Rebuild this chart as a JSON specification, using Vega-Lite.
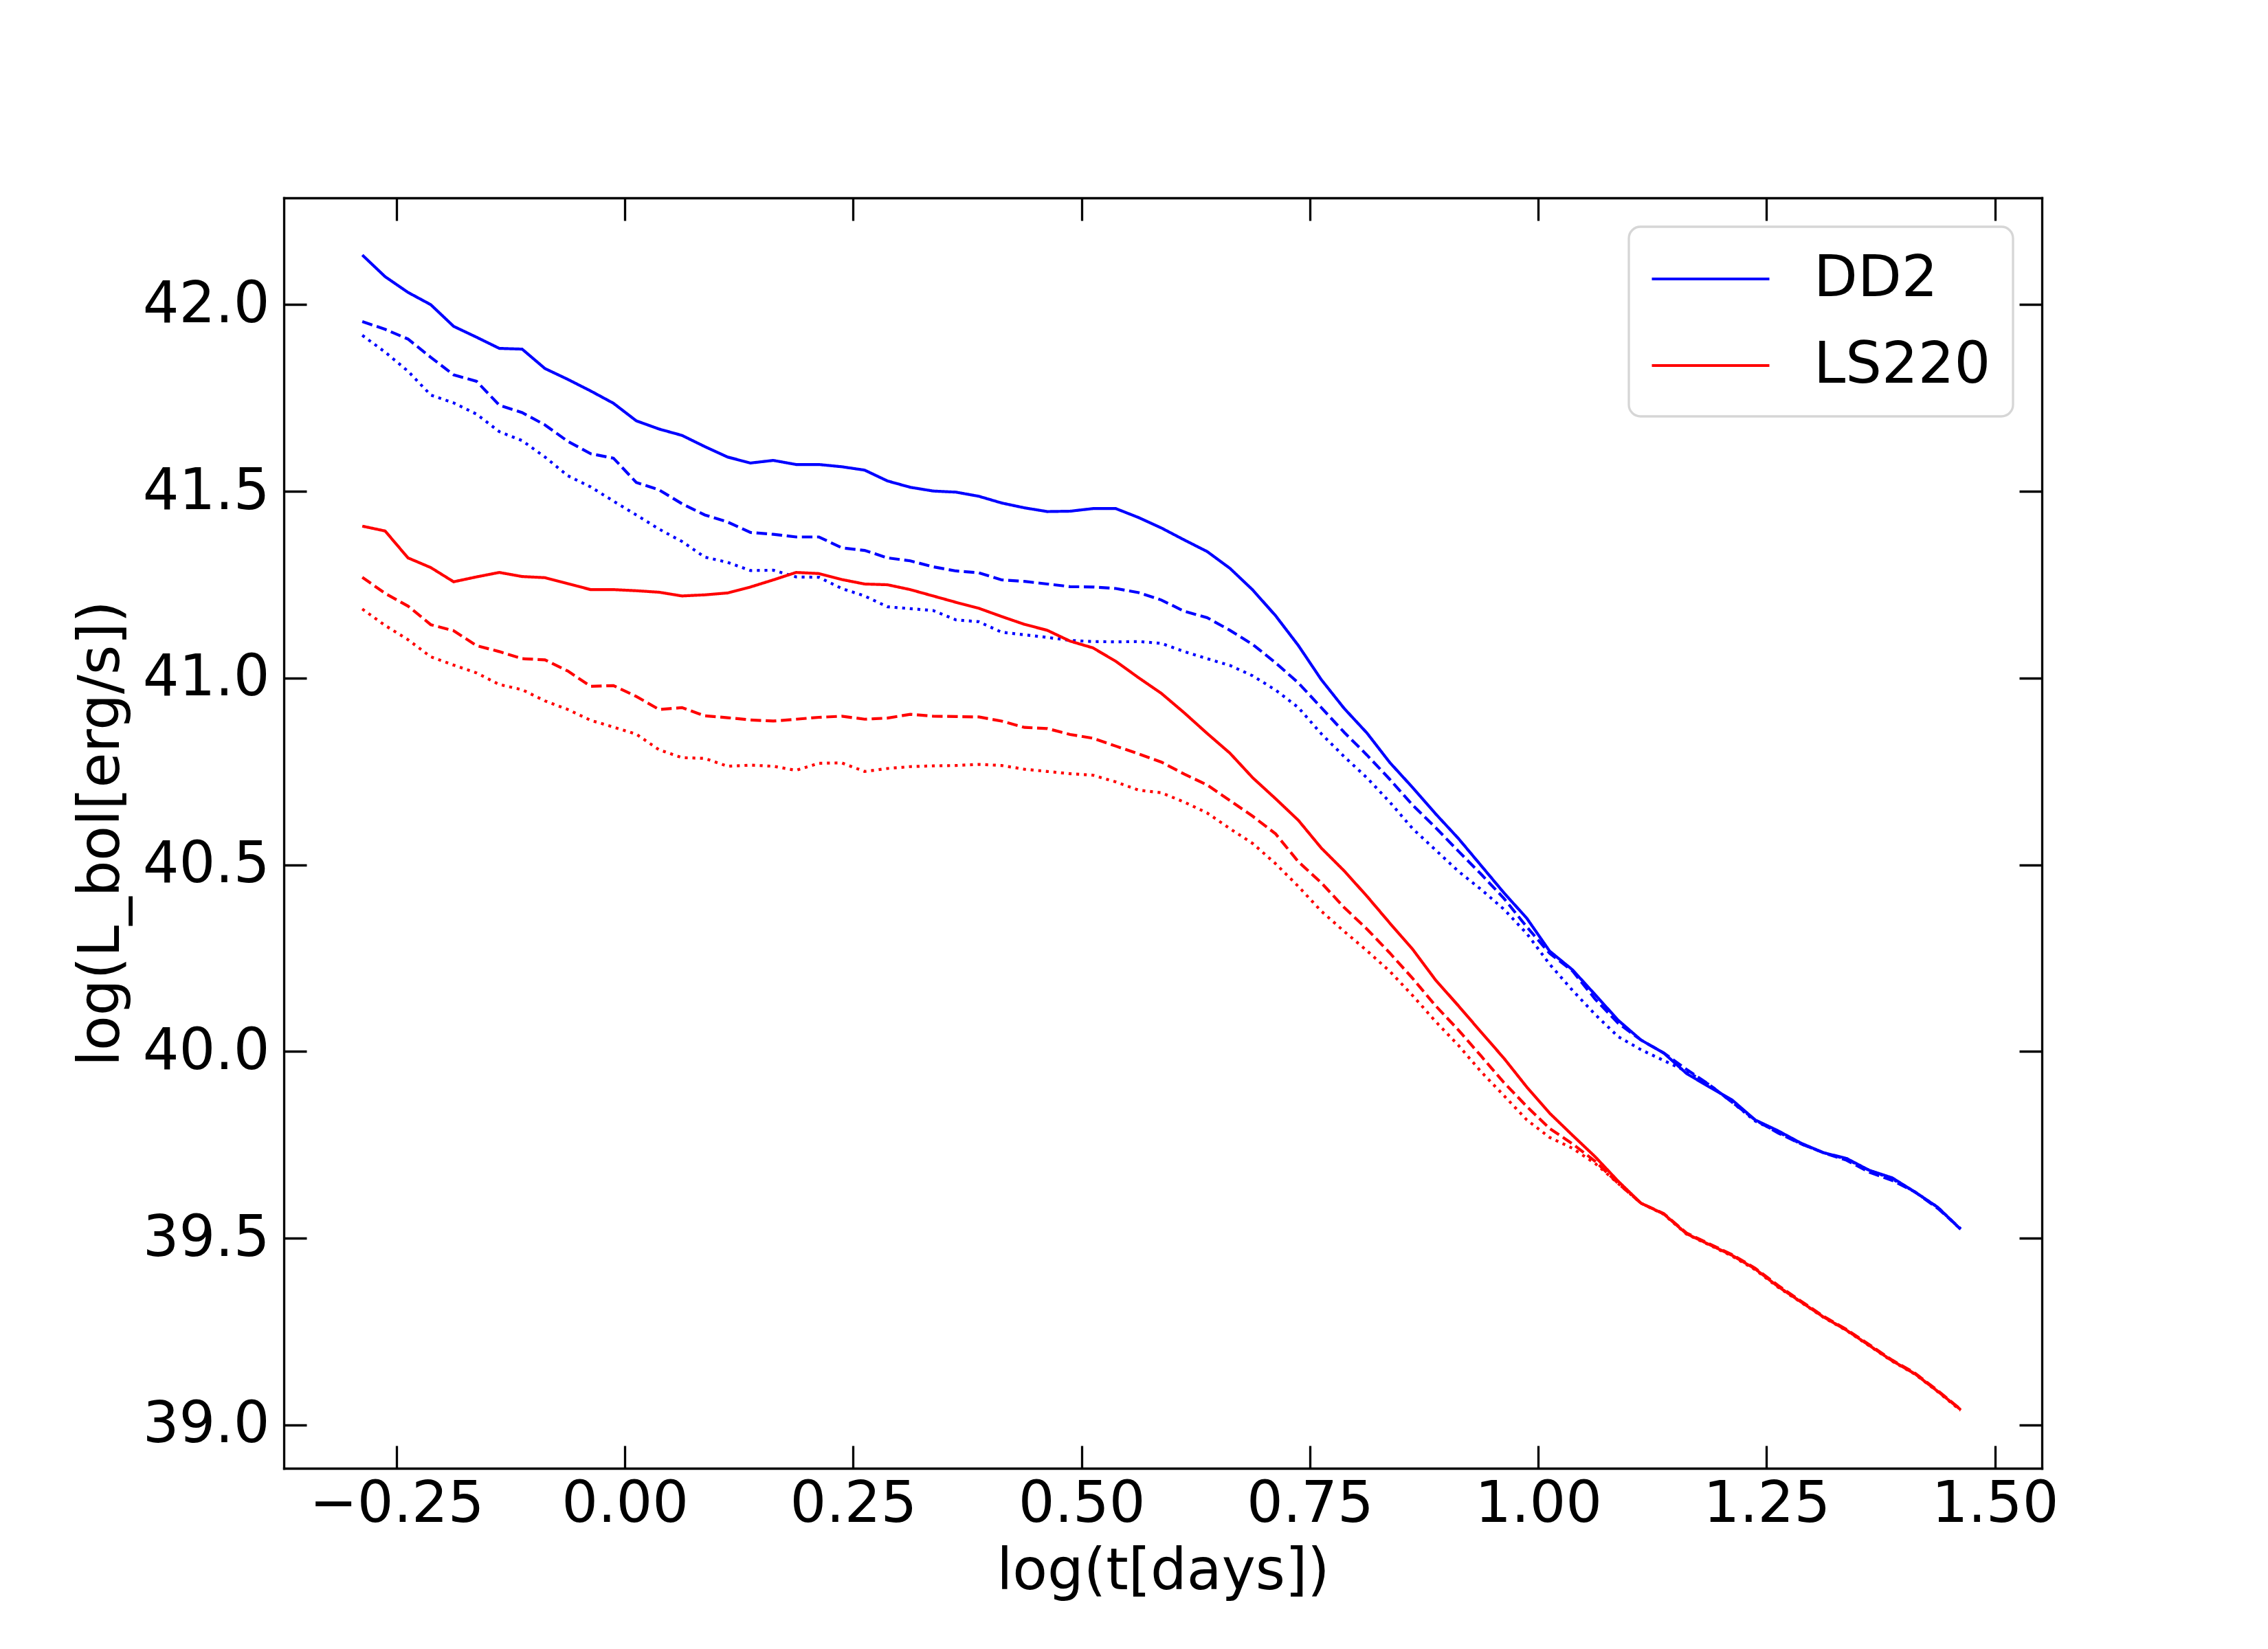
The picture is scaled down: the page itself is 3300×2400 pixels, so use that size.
{
  "$schema": "https://vega.github.io/schema/vega-lite/v6.json",
  "autosize": "none",
  "padding": {"left": 413, "top": 288, "right": 329, "bottom": 263},
  "width": 2558,
  "height": 1849,
  "background": "white",
  "config": {
    "view": {"stroke": null},
    "font": "DejaVu Sans",
    "axis": {
      "grid": false,
      "domainColor": "black",
      "domainWidth": 3.3,
      "domainCap": "square",
      "tickColor": "black",
      "tickWidth": 3.3,
      "tickSize": -33,
      "labelFont": "DejaVu Sans",
      "labelFontSize": 83,
      "labelColor": "black",
      "labelLimit": 0,
      "labelFlush": false,
      "labelOverlap": false,
      "titleFont": "DejaVu Sans",
      "titleFontSize": 83,
      "titleFontWeight": "normal",
      "titleColor": "black"
    },
    "legend": {
      "strokeColor": "#d6d6d6",
      "strokeWidth": 3.3,
      "fillColor": "white",
      "cornerRadius": 17,
      "padding": 32,
      "rowPadding": 40,
      "labelFont": "DejaVu Sans",
      "labelFontSize": 83,
      "labelColor": "black",
      "labelLimit": 0,
      "labelOffset": 106,
      "symbolType": "M-2.06,0H2.06",
      "symbolSize": 6889,
      "symbolOffset": 43,
      "symbolStrokeWidth": 4.2
    }
  },
  "data": {
    "values": [
      {"t": -0.2875, "L": 42.133, "eos": "DD2", "case": "1"},
      {"t": -0.2625, "L": 42.075, "eos": "DD2", "case": "1"},
      {"t": -0.2375, "L": 42.033, "eos": "DD2", "case": "1"},
      {"t": -0.2125, "L": 42.000, "eos": "DD2", "case": "1"},
      {"t": -0.1875, "L": 41.942, "eos": "DD2", "case": "1"},
      {"t": -0.1625, "L": 41.913, "eos": "DD2", "case": "1"},
      {"t": -0.1375, "L": 41.883, "eos": "DD2", "case": "1"},
      {"t": -0.1125, "L": 41.881, "eos": "DD2", "case": "1"},
      {"t": -0.0875, "L": 41.829, "eos": "DD2", "case": "1"},
      {"t": -0.0625, "L": 41.800, "eos": "DD2", "case": "1"},
      {"t": -0.0375, "L": 41.769, "eos": "DD2", "case": "1"},
      {"t": -0.0125, "L": 41.736, "eos": "DD2", "case": "1"},
      {"t": 0.0125, "L": 41.689, "eos": "DD2", "case": "1"},
      {"t": 0.0375, "L": 41.667, "eos": "DD2", "case": "1"},
      {"t": 0.0625, "L": 41.650, "eos": "DD2", "case": "1"},
      {"t": 0.0875, "L": 41.620, "eos": "DD2", "case": "1"},
      {"t": 0.1125, "L": 41.592, "eos": "DD2", "case": "1"},
      {"t": 0.1375, "L": 41.576, "eos": "DD2", "case": "1"},
      {"t": 0.1625, "L": 41.583, "eos": "DD2", "case": "1"},
      {"t": 0.1875, "L": 41.572, "eos": "DD2", "case": "1"},
      {"t": 0.2125, "L": 41.572, "eos": "DD2", "case": "1"},
      {"t": 0.2375, "L": 41.566, "eos": "DD2", "case": "1"},
      {"t": 0.2625, "L": 41.557, "eos": "DD2", "case": "1"},
      {"t": 0.2875, "L": 41.528, "eos": "DD2", "case": "1"},
      {"t": 0.3125, "L": 41.511, "eos": "DD2", "case": "1"},
      {"t": 0.3375, "L": 41.501, "eos": "DD2", "case": "1"},
      {"t": 0.3625, "L": 41.498, "eos": "DD2", "case": "1"},
      {"t": 0.3875, "L": 41.487, "eos": "DD2", "case": "1"},
      {"t": 0.4125, "L": 41.469, "eos": "DD2", "case": "1"},
      {"t": 0.4375, "L": 41.456, "eos": "DD2", "case": "1"},
      {"t": 0.4625, "L": 41.446, "eos": "DD2", "case": "1"},
      {"t": 0.4875, "L": 41.447, "eos": "DD2", "case": "1"},
      {"t": 0.5125, "L": 41.454, "eos": "DD2", "case": "1"},
      {"t": 0.5375, "L": 41.454, "eos": "DD2", "case": "1"},
      {"t": 0.5625, "L": 41.430, "eos": "DD2", "case": "1"},
      {"t": 0.5875, "L": 41.402, "eos": "DD2", "case": "1"},
      {"t": 0.6125, "L": 41.370, "eos": "DD2", "case": "1"},
      {"t": 0.6375, "L": 41.339, "eos": "DD2", "case": "1"},
      {"t": 0.6625, "L": 41.294, "eos": "DD2", "case": "1"},
      {"t": 0.6875, "L": 41.236, "eos": "DD2", "case": "1"},
      {"t": 0.7125, "L": 41.167, "eos": "DD2", "case": "1"},
      {"t": 0.7375, "L": 41.087, "eos": "DD2", "case": "1"},
      {"t": 0.7625, "L": 40.996, "eos": "DD2", "case": "1"},
      {"t": 0.7875, "L": 40.919, "eos": "DD2", "case": "1"},
      {"t": 0.8125, "L": 40.853, "eos": "DD2", "case": "1"},
      {"t": 0.8375, "L": 40.774, "eos": "DD2", "case": "1"},
      {"t": 0.8625, "L": 40.707, "eos": "DD2", "case": "1"},
      {"t": 0.8875, "L": 40.637, "eos": "DD2", "case": "1"},
      {"t": 0.9125, "L": 40.571, "eos": "DD2", "case": "1"},
      {"t": 0.9375, "L": 40.498, "eos": "DD2", "case": "1"},
      {"t": 0.9625, "L": 40.425, "eos": "DD2", "case": "1"},
      {"t": 0.9875, "L": 40.357, "eos": "DD2", "case": "1"},
      {"t": 1.0125, "L": 40.269, "eos": "DD2", "case": "1"},
      {"t": 1.0375, "L": 40.219, "eos": "DD2", "case": "1"},
      {"t": 1.0625, "L": 40.152, "eos": "DD2", "case": "1"},
      {"t": 1.0875, "L": 40.084, "eos": "DD2", "case": "1"},
      {"t": 1.1125, "L": 40.031, "eos": "DD2", "case": "1"},
      {"t": 1.1375, "L": 39.996, "eos": "DD2", "case": "1"},
      {"t": 1.1625, "L": 39.941, "eos": "DD2", "case": "1"},
      {"t": 1.1875, "L": 39.905, "eos": "DD2", "case": "1"},
      {"t": 1.2125, "L": 39.870, "eos": "DD2", "case": "1"},
      {"t": 1.2375, "L": 39.817, "eos": "DD2", "case": "1"},
      {"t": 1.2625, "L": 39.788, "eos": "DD2", "case": "1"},
      {"t": 1.2875, "L": 39.755, "eos": "DD2", "case": "1"},
      {"t": 1.3125, "L": 39.729, "eos": "DD2", "case": "1"},
      {"t": 1.3375, "L": 39.714, "eos": "DD2", "case": "1"},
      {"t": 1.3625, "L": 39.682, "eos": "DD2", "case": "1"},
      {"t": 1.3875, "L": 39.662, "eos": "DD2", "case": "1"},
      {"t": 1.4125, "L": 39.624, "eos": "DD2", "case": "1"},
      {"t": 1.4375, "L": 39.583, "eos": "DD2", "case": "1"},
      {"t": 1.4625, "L": 39.524, "eos": "DD2", "case": "1"},

      {"t": -0.2875, "L": 41.955, "eos": "DD2", "case": "2"},
      {"t": -0.2625, "L": 41.934, "eos": "DD2", "case": "2"},
      {"t": -0.2375, "L": 41.908, "eos": "DD2", "case": "2"},
      {"t": -0.2125, "L": 41.859, "eos": "DD2", "case": "2"},
      {"t": -0.1875, "L": 41.812, "eos": "DD2", "case": "2"},
      {"t": -0.1625, "L": 41.795, "eos": "DD2", "case": "2"},
      {"t": -0.1375, "L": 41.731, "eos": "DD2", "case": "2"},
      {"t": -0.1125, "L": 41.711, "eos": "DD2", "case": "2"},
      {"t": -0.0875, "L": 41.678, "eos": "DD2", "case": "2"},
      {"t": -0.0625, "L": 41.634, "eos": "DD2", "case": "2"},
      {"t": -0.0375, "L": 41.601, "eos": "DD2", "case": "2"},
      {"t": -0.0125, "L": 41.589, "eos": "DD2", "case": "2"},
      {"t": 0.0125, "L": 41.524, "eos": "DD2", "case": "2"},
      {"t": 0.0375, "L": 41.504, "eos": "DD2", "case": "2"},
      {"t": 0.0625, "L": 41.467, "eos": "DD2", "case": "2"},
      {"t": 0.0875, "L": 41.437, "eos": "DD2", "case": "2"},
      {"t": 0.1125, "L": 41.418, "eos": "DD2", "case": "2"},
      {"t": 0.1375, "L": 41.390, "eos": "DD2", "case": "2"},
      {"t": 0.1625, "L": 41.385, "eos": "DD2", "case": "2"},
      {"t": 0.1875, "L": 41.378, "eos": "DD2", "case": "2"},
      {"t": 0.2125, "L": 41.378, "eos": "DD2", "case": "2"},
      {"t": 0.2375, "L": 41.349, "eos": "DD2", "case": "2"},
      {"t": 0.2625, "L": 41.342, "eos": "DD2", "case": "2"},
      {"t": 0.2875, "L": 41.322, "eos": "DD2", "case": "2"},
      {"t": 0.3125, "L": 41.314, "eos": "DD2", "case": "2"},
      {"t": 0.3375, "L": 41.298, "eos": "DD2", "case": "2"},
      {"t": 0.3625, "L": 41.287, "eos": "DD2", "case": "2"},
      {"t": 0.3875, "L": 41.282, "eos": "DD2", "case": "2"},
      {"t": 0.4125, "L": 41.263, "eos": "DD2", "case": "2"},
      {"t": 0.4375, "L": 41.259, "eos": "DD2", "case": "2"},
      {"t": 0.4625, "L": 41.252, "eos": "DD2", "case": "2"},
      {"t": 0.4875, "L": 41.245, "eos": "DD2", "case": "2"},
      {"t": 0.5125, "L": 41.244, "eos": "DD2", "case": "2"},
      {"t": 0.5375, "L": 41.240, "eos": "DD2", "case": "2"},
      {"t": 0.5625, "L": 41.229, "eos": "DD2", "case": "2"},
      {"t": 0.5875, "L": 41.209, "eos": "DD2", "case": "2"},
      {"t": 0.6125, "L": 41.179, "eos": "DD2", "case": "2"},
      {"t": 0.6375, "L": 41.162, "eos": "DD2", "case": "2"},
      {"t": 0.6625, "L": 41.128, "eos": "DD2", "case": "2"},
      {"t": 0.6875, "L": 41.090, "eos": "DD2", "case": "2"},
      {"t": 0.7125, "L": 41.041, "eos": "DD2", "case": "2"},
      {"t": 0.7375, "L": 40.987, "eos": "DD2", "case": "2"},
      {"t": 0.7625, "L": 40.921, "eos": "DD2", "case": "2"},
      {"t": 0.7875, "L": 40.855, "eos": "DD2", "case": "2"},
      {"t": 0.8125, "L": 40.794, "eos": "DD2", "case": "2"},
      {"t": 0.8375, "L": 40.729, "eos": "DD2", "case": "2"},
      {"t": 0.8625, "L": 40.660, "eos": "DD2", "case": "2"},
      {"t": 0.8875, "L": 40.600, "eos": "DD2", "case": "2"},
      {"t": 0.9125, "L": 40.537, "eos": "DD2", "case": "2"},
      {"t": 0.9375, "L": 40.475, "eos": "DD2", "case": "2"},
      {"t": 0.9625, "L": 40.410, "eos": "DD2", "case": "2"},
      {"t": 0.9875, "L": 40.334, "eos": "DD2", "case": "2"},
      {"t": 1.0125, "L": 40.263, "eos": "DD2", "case": "2"},
      {"t": 1.0375, "L": 40.216, "eos": "DD2", "case": "2"},
      {"t": 1.0625, "L": 40.140, "eos": "DD2", "case": "2"},
      {"t": 1.0875, "L": 40.076, "eos": "DD2", "case": "2"},
      {"t": 1.1125, "L": 40.031, "eos": "DD2", "case": "2"},
      {"t": 1.1375, "L": 39.996, "eos": "DD2", "case": "2"},
      {"t": 1.1625, "L": 39.952, "eos": "DD2", "case": "2"},
      {"t": 1.1875, "L": 39.911, "eos": "DD2", "case": "2"},
      {"t": 1.2125, "L": 39.864, "eos": "DD2", "case": "2"},
      {"t": 1.2375, "L": 39.817, "eos": "DD2", "case": "2"},
      {"t": 1.2625, "L": 39.782, "eos": "DD2", "case": "2"},
      {"t": 1.2875, "L": 39.753, "eos": "DD2", "case": "2"},
      {"t": 1.3125, "L": 39.729, "eos": "DD2", "case": "2"},
      {"t": 1.3375, "L": 39.709, "eos": "DD2", "case": "2"},
      {"t": 1.3625, "L": 39.677, "eos": "DD2", "case": "2"},
      {"t": 1.3875, "L": 39.655, "eos": "DD2", "case": "2"},
      {"t": 1.4125, "L": 39.624, "eos": "DD2", "case": "2"},
      {"t": 1.4375, "L": 39.580, "eos": "DD2", "case": "2"},
      {"t": 1.4625, "L": 39.526, "eos": "DD2", "case": "2"},

      {"t": -0.2875, "L": 41.918, "eos": "DD2", "case": "3"},
      {"t": -0.2625, "L": 41.873, "eos": "DD2", "case": "3"},
      {"t": -0.2375, "L": 41.822, "eos": "DD2", "case": "3"},
      {"t": -0.2125, "L": 41.758, "eos": "DD2", "case": "3"},
      {"t": -0.1875, "L": 41.737, "eos": "DD2", "case": "3"},
      {"t": -0.1625, "L": 41.707, "eos": "DD2", "case": "3"},
      {"t": -0.1375, "L": 41.660, "eos": "DD2", "case": "3"},
      {"t": -0.1125, "L": 41.636, "eos": "DD2", "case": "3"},
      {"t": -0.0875, "L": 41.592, "eos": "DD2", "case": "3"},
      {"t": -0.0625, "L": 41.542, "eos": "DD2", "case": "3"},
      {"t": -0.0375, "L": 41.512, "eos": "DD2", "case": "3"},
      {"t": -0.0125, "L": 41.474, "eos": "DD2", "case": "3"},
      {"t": 0.0125, "L": 41.437, "eos": "DD2", "case": "3"},
      {"t": 0.0375, "L": 41.399, "eos": "DD2", "case": "3"},
      {"t": 0.0625, "L": 41.366, "eos": "DD2", "case": "3"},
      {"t": 0.0875, "L": 41.324, "eos": "DD2", "case": "3"},
      {"t": 0.1125, "L": 41.310, "eos": "DD2", "case": "3"},
      {"t": 0.1375, "L": 41.288, "eos": "DD2", "case": "3"},
      {"t": 0.1625, "L": 41.289, "eos": "DD2", "case": "3"},
      {"t": 0.1875, "L": 41.271, "eos": "DD2", "case": "3"},
      {"t": 0.2125, "L": 41.270, "eos": "DD2", "case": "3"},
      {"t": 0.2375, "L": 41.240, "eos": "DD2", "case": "3"},
      {"t": 0.2625, "L": 41.220, "eos": "DD2", "case": "3"},
      {"t": 0.2875, "L": 41.191, "eos": "DD2", "case": "3"},
      {"t": 0.3125, "L": 41.186, "eos": "DD2", "case": "3"},
      {"t": 0.3375, "L": 41.181, "eos": "DD2", "case": "3"},
      {"t": 0.3625, "L": 41.156, "eos": "DD2", "case": "3"},
      {"t": 0.3875, "L": 41.151, "eos": "DD2", "case": "3"},
      {"t": 0.4125, "L": 41.123, "eos": "DD2", "case": "3"},
      {"t": 0.4375, "L": 41.116, "eos": "DD2", "case": "3"},
      {"t": 0.4625, "L": 41.109, "eos": "DD2", "case": "3"},
      {"t": 0.4875, "L": 41.101, "eos": "DD2", "case": "3"},
      {"t": 0.5125, "L": 41.098, "eos": "DD2", "case": "3"},
      {"t": 0.5375, "L": 41.097, "eos": "DD2", "case": "3"},
      {"t": 0.5625, "L": 41.098, "eos": "DD2", "case": "3"},
      {"t": 0.5875, "L": 41.093, "eos": "DD2", "case": "3"},
      {"t": 0.6125, "L": 41.071, "eos": "DD2", "case": "3"},
      {"t": 0.6375, "L": 41.052, "eos": "DD2", "case": "3"},
      {"t": 0.6625, "L": 41.034, "eos": "DD2", "case": "3"},
      {"t": 0.6875, "L": 41.006, "eos": "DD2", "case": "3"},
      {"t": 0.7125, "L": 40.968, "eos": "DD2", "case": "3"},
      {"t": 0.7375, "L": 40.921, "eos": "DD2", "case": "3"},
      {"t": 0.7625, "L": 40.851, "eos": "DD2", "case": "3"},
      {"t": 0.7875, "L": 40.790, "eos": "DD2", "case": "3"},
      {"t": 0.8125, "L": 40.733, "eos": "DD2", "case": "3"},
      {"t": 0.8375, "L": 40.668, "eos": "DD2", "case": "3"},
      {"t": 0.8625, "L": 40.597, "eos": "DD2", "case": "3"},
      {"t": 0.8875, "L": 40.540, "eos": "DD2", "case": "3"},
      {"t": 0.9125, "L": 40.483, "eos": "DD2", "case": "3"},
      {"t": 0.9375, "L": 40.434, "eos": "DD2", "case": "3"},
      {"t": 0.9625, "L": 40.381, "eos": "DD2", "case": "3"},
      {"t": 0.9875, "L": 40.316, "eos": "DD2", "case": "3"},
      {"t": 1.0125, "L": 40.234, "eos": "DD2", "case": "3"},
      {"t": 1.0375, "L": 40.164, "eos": "DD2", "case": "3"},
      {"t": 1.0625, "L": 40.099, "eos": "DD2", "case": "3"},
      {"t": 1.0875, "L": 40.040, "eos": "DD2", "case": "3"},
      {"t": 1.1125, "L": 40.005, "eos": "DD2", "case": "3"},
      {"t": 1.1375, "L": 39.976, "eos": "DD2", "case": "3"},
      {"t": 1.1625, "L": 39.947, "eos": "DD2", "case": "3"},
      {"t": 1.1875, "L": 39.911, "eos": "DD2", "case": "3"},
      {"t": 1.2125, "L": 39.864, "eos": "DD2", "case": "3"},
      {"t": 1.2375, "L": 39.814, "eos": "DD2", "case": "3"},
      {"t": 1.2625, "L": 39.785, "eos": "DD2", "case": "3"},
      {"t": 1.2875, "L": 39.753, "eos": "DD2", "case": "3"},
      {"t": 1.3125, "L": 39.729, "eos": "DD2", "case": "3"},
      {"t": 1.3375, "L": 39.712, "eos": "DD2", "case": "3"},
      {"t": 1.3625, "L": 39.682, "eos": "DD2", "case": "3"},
      {"t": 1.3875, "L": 39.659, "eos": "DD2", "case": "3"},
      {"t": 1.4125, "L": 39.624, "eos": "DD2", "case": "3"},
      {"t": 1.4375, "L": 39.583, "eos": "DD2", "case": "3"},
      {"t": 1.4625, "L": 39.524, "eos": "DD2", "case": "3"},

      {"t": -0.2875, "L": 41.407, "eos": "LS220", "case": "1"},
      {"t": -0.2625, "L": 41.394, "eos": "LS220", "case": "1"},
      {"t": -0.2375, "L": 41.322, "eos": "LS220", "case": "1"},
      {"t": -0.2125, "L": 41.296, "eos": "LS220", "case": "1"},
      {"t": -0.1875, "L": 41.258, "eos": "LS220", "case": "1"},
      {"t": -0.1625, "L": 41.271, "eos": "LS220", "case": "1"},
      {"t": -0.1375, "L": 41.283, "eos": "LS220", "case": "1"},
      {"t": -0.1125, "L": 41.272, "eos": "LS220", "case": "1"},
      {"t": -0.0875, "L": 41.269, "eos": "LS220", "case": "1"},
      {"t": -0.0625, "L": 41.253, "eos": "LS220", "case": "1"},
      {"t": -0.0375, "L": 41.237, "eos": "LS220", "case": "1"},
      {"t": -0.0125, "L": 41.237, "eos": "LS220", "case": "1"},
      {"t": 0.0125, "L": 41.234, "eos": "LS220", "case": "1"},
      {"t": 0.0375, "L": 41.230, "eos": "LS220", "case": "1"},
      {"t": 0.0625, "L": 41.220, "eos": "LS220", "case": "1"},
      {"t": 0.0875, "L": 41.223, "eos": "LS220", "case": "1"},
      {"t": 0.1125, "L": 41.228, "eos": "LS220", "case": "1"},
      {"t": 0.1375, "L": 41.244, "eos": "LS220", "case": "1"},
      {"t": 0.1625, "L": 41.263, "eos": "LS220", "case": "1"},
      {"t": 0.1875, "L": 41.283, "eos": "LS220", "case": "1"},
      {"t": 0.2125, "L": 41.280, "eos": "LS220", "case": "1"},
      {"t": 0.2375, "L": 41.264, "eos": "LS220", "case": "1"},
      {"t": 0.2625, "L": 41.252, "eos": "LS220", "case": "1"},
      {"t": 0.2875, "L": 41.250, "eos": "LS220", "case": "1"},
      {"t": 0.3125, "L": 41.237, "eos": "LS220", "case": "1"},
      {"t": 0.3375, "L": 41.220, "eos": "LS220", "case": "1"},
      {"t": 0.3625, "L": 41.203, "eos": "LS220", "case": "1"},
      {"t": 0.3875, "L": 41.187, "eos": "LS220", "case": "1"},
      {"t": 0.4125, "L": 41.165, "eos": "LS220", "case": "1"},
      {"t": 0.4375, "L": 41.144, "eos": "LS220", "case": "1"},
      {"t": 0.4625, "L": 41.128, "eos": "LS220", "case": "1"},
      {"t": 0.4875, "L": 41.099, "eos": "LS220", "case": "1"},
      {"t": 0.5125, "L": 41.081, "eos": "LS220", "case": "1"},
      {"t": 0.5375, "L": 41.045, "eos": "LS220", "case": "1"},
      {"t": 0.5625, "L": 41.001, "eos": "LS220", "case": "1"},
      {"t": 0.5875, "L": 40.959, "eos": "LS220", "case": "1"},
      {"t": 0.6125, "L": 40.907, "eos": "LS220", "case": "1"},
      {"t": 0.6375, "L": 40.852, "eos": "LS220", "case": "1"},
      {"t": 0.6625, "L": 40.799, "eos": "LS220", "case": "1"},
      {"t": 0.6875, "L": 40.733, "eos": "LS220", "case": "1"},
      {"t": 0.7125, "L": 40.677, "eos": "LS220", "case": "1"},
      {"t": 0.7375, "L": 40.619, "eos": "LS220", "case": "1"},
      {"t": 0.7625, "L": 40.545, "eos": "LS220", "case": "1"},
      {"t": 0.7875, "L": 40.484, "eos": "LS220", "case": "1"},
      {"t": 0.8125, "L": 40.416, "eos": "LS220", "case": "1"},
      {"t": 0.8375, "L": 40.344, "eos": "LS220", "case": "1"},
      {"t": 0.8625, "L": 40.274, "eos": "LS220", "case": "1"},
      {"t": 0.8875, "L": 40.192, "eos": "LS220", "case": "1"},
      {"t": 0.9125, "L": 40.123, "eos": "LS220", "case": "1"},
      {"t": 0.9375, "L": 40.052, "eos": "LS220", "case": "1"},
      {"t": 0.9625, "L": 39.982, "eos": "LS220", "case": "1"},
      {"t": 0.9875, "L": 39.905, "eos": "LS220", "case": "1"},
      {"t": 1.0125, "L": 39.835, "eos": "LS220", "case": "1"},
      {"t": 1.0375, "L": 39.776, "eos": "LS220", "case": "1"},
      {"t": 1.0625, "L": 39.718, "eos": "LS220", "case": "1"},
      {"t": 1.0875, "L": 39.653, "eos": "LS220", "case": "1"},
      {"t": 1.1125, "L": 39.594, "eos": "LS220", "case": "1"},
      {"t": 1.1375, "L": 39.565, "eos": "LS220", "case": "1"},
      {"t": 1.1625, "L": 39.512, "eos": "LS220", "case": "1"},
      {"t": 1.1875, "L": 39.483, "eos": "LS220", "case": "1"},
      {"t": 1.2125, "L": 39.454, "eos": "LS220", "case": "1"},
      {"t": 1.2375, "L": 39.418, "eos": "LS220", "case": "1"},
      {"t": 1.2625, "L": 39.371, "eos": "LS220", "case": "1"},
      {"t": 1.2875, "L": 39.330, "eos": "LS220", "case": "1"},
      {"t": 1.3125, "L": 39.289, "eos": "LS220", "case": "1"},
      {"t": 1.3375, "L": 39.254, "eos": "LS220", "case": "1"},
      {"t": 1.3625, "L": 39.213, "eos": "LS220", "case": "1"},
      {"t": 1.3875, "L": 39.172, "eos": "LS220", "case": "1"},
      {"t": 1.4125, "L": 39.137, "eos": "LS220", "case": "1"},
      {"t": 1.4375, "L": 39.090, "eos": "LS220", "case": "1"},
      {"t": 1.4625, "L": 39.041, "eos": "LS220", "case": "1"},

      {"t": -0.2875, "L": 41.270, "eos": "LS220", "case": "2"},
      {"t": -0.2625, "L": 41.227, "eos": "LS220", "case": "2"},
      {"t": -0.2375, "L": 41.193, "eos": "LS220", "case": "2"},
      {"t": -0.2125, "L": 41.143, "eos": "LS220", "case": "2"},
      {"t": -0.1875, "L": 41.127, "eos": "LS220", "case": "2"},
      {"t": -0.1625, "L": 41.087, "eos": "LS220", "case": "2"},
      {"t": -0.1375, "L": 41.071, "eos": "LS220", "case": "2"},
      {"t": -0.1125, "L": 41.052, "eos": "LS220", "case": "2"},
      {"t": -0.0875, "L": 41.049, "eos": "LS220", "case": "2"},
      {"t": -0.0625, "L": 41.019, "eos": "LS220", "case": "2"},
      {"t": -0.0375, "L": 40.978, "eos": "LS220", "case": "2"},
      {"t": -0.0125, "L": 40.980, "eos": "LS220", "case": "2"},
      {"t": 0.0125, "L": 40.951, "eos": "LS220", "case": "2"},
      {"t": 0.0375, "L": 40.916, "eos": "LS220", "case": "2"},
      {"t": 0.0625, "L": 40.921, "eos": "LS220", "case": "2"},
      {"t": 0.0875, "L": 40.899, "eos": "LS220", "case": "2"},
      {"t": 0.1125, "L": 40.894, "eos": "LS220", "case": "2"},
      {"t": 0.1375, "L": 40.888, "eos": "LS220", "case": "2"},
      {"t": 0.1625, "L": 40.885, "eos": "LS220", "case": "2"},
      {"t": 0.1875, "L": 40.890, "eos": "LS220", "case": "2"},
      {"t": 0.2125, "L": 40.895, "eos": "LS220", "case": "2"},
      {"t": 0.2375, "L": 40.898, "eos": "LS220", "case": "2"},
      {"t": 0.2625, "L": 40.890, "eos": "LS220", "case": "2"},
      {"t": 0.2875, "L": 40.893, "eos": "LS220", "case": "2"},
      {"t": 0.3125, "L": 40.903, "eos": "LS220", "case": "2"},
      {"t": 0.3375, "L": 40.898, "eos": "LS220", "case": "2"},
      {"t": 0.3625, "L": 40.897, "eos": "LS220", "case": "2"},
      {"t": 0.3875, "L": 40.896, "eos": "LS220", "case": "2"},
      {"t": 0.4125, "L": 40.885, "eos": "LS220", "case": "2"},
      {"t": 0.4375, "L": 40.868, "eos": "LS220", "case": "2"},
      {"t": 0.4625, "L": 40.865, "eos": "LS220", "case": "2"},
      {"t": 0.4875, "L": 40.849, "eos": "LS220", "case": "2"},
      {"t": 0.5125, "L": 40.839, "eos": "LS220", "case": "2"},
      {"t": 0.5375, "L": 40.818, "eos": "LS220", "case": "2"},
      {"t": 0.5625, "L": 40.797, "eos": "LS220", "case": "2"},
      {"t": 0.5875, "L": 40.775, "eos": "LS220", "case": "2"},
      {"t": 0.6125, "L": 40.743, "eos": "LS220", "case": "2"},
      {"t": 0.6375, "L": 40.714, "eos": "LS220", "case": "2"},
      {"t": 0.6625, "L": 40.672, "eos": "LS220", "case": "2"},
      {"t": 0.6875, "L": 40.630, "eos": "LS220", "case": "2"},
      {"t": 0.7125, "L": 40.583, "eos": "LS220", "case": "2"},
      {"t": 0.7375, "L": 40.508, "eos": "LS220", "case": "2"},
      {"t": 0.7625, "L": 40.452, "eos": "LS220", "case": "2"},
      {"t": 0.7875, "L": 40.386, "eos": "LS220", "case": "2"},
      {"t": 0.8125, "L": 40.328, "eos": "LS220", "case": "2"},
      {"t": 0.8375, "L": 40.264, "eos": "LS220", "case": "2"},
      {"t": 0.8625, "L": 40.196, "eos": "LS220", "case": "2"},
      {"t": 0.8875, "L": 40.123, "eos": "LS220", "case": "2"},
      {"t": 0.9125, "L": 40.058, "eos": "LS220", "case": "2"},
      {"t": 0.9375, "L": 39.988, "eos": "LS220", "case": "2"},
      {"t": 0.9625, "L": 39.917, "eos": "LS220", "case": "2"},
      {"t": 0.9875, "L": 39.853, "eos": "LS220", "case": "2"},
      {"t": 1.0125, "L": 39.794, "eos": "LS220", "case": "2"},
      {"t": 1.0375, "L": 39.753, "eos": "LS220", "case": "2"},
      {"t": 1.0625, "L": 39.706, "eos": "LS220", "case": "2"},
      {"t": 1.0875, "L": 39.647, "eos": "LS220", "case": "2"},
      {"t": 1.1125, "L": 39.594, "eos": "LS220", "case": "2"},
      {"t": 1.1375, "L": 39.566, "eos": "LS220", "case": "2"},
      {"t": 1.1625, "L": 39.514, "eos": "LS220", "case": "2"},
      {"t": 1.1875, "L": 39.485, "eos": "LS220", "case": "2"},
      {"t": 1.2125, "L": 39.456, "eos": "LS220", "case": "2"},
      {"t": 1.2375, "L": 39.420, "eos": "LS220", "case": "2"},
      {"t": 1.2625, "L": 39.374, "eos": "LS220", "case": "2"},
      {"t": 1.2875, "L": 39.332, "eos": "LS220", "case": "2"},
      {"t": 1.3125, "L": 39.291, "eos": "LS220", "case": "2"},
      {"t": 1.3375, "L": 39.256, "eos": "LS220", "case": "2"},
      {"t": 1.3625, "L": 39.215, "eos": "LS220", "case": "2"},
      {"t": 1.3875, "L": 39.174, "eos": "LS220", "case": "2"},
      {"t": 1.4125, "L": 39.139, "eos": "LS220", "case": "2"},
      {"t": 1.4375, "L": 39.092, "eos": "LS220", "case": "2"},
      {"t": 1.4625, "L": 39.042, "eos": "LS220", "case": "2"},

      {"t": -0.2875, "L": 41.185, "eos": "LS220", "case": "3"},
      {"t": -0.2625, "L": 41.141, "eos": "LS220", "case": "3"},
      {"t": -0.2375, "L": 41.103, "eos": "LS220", "case": "3"},
      {"t": -0.2125, "L": 41.057, "eos": "LS220", "case": "3"},
      {"t": -0.1875, "L": 41.035, "eos": "LS220", "case": "3"},
      {"t": -0.1625, "L": 41.014, "eos": "LS220", "case": "3"},
      {"t": -0.1375, "L": 40.983, "eos": "LS220", "case": "3"},
      {"t": -0.1125, "L": 40.969, "eos": "LS220", "case": "3"},
      {"t": -0.0875, "L": 40.939, "eos": "LS220", "case": "3"},
      {"t": -0.0625, "L": 40.916, "eos": "LS220", "case": "3"},
      {"t": -0.0375, "L": 40.887, "eos": "LS220", "case": "3"},
      {"t": -0.0125, "L": 40.869, "eos": "LS220", "case": "3"},
      {"t": 0.0125, "L": 40.850, "eos": "LS220", "case": "3"},
      {"t": 0.0375, "L": 40.808, "eos": "LS220", "case": "3"},
      {"t": 0.0625, "L": 40.787, "eos": "LS220", "case": "3"},
      {"t": 0.0875, "L": 40.785, "eos": "LS220", "case": "3"},
      {"t": 0.1125, "L": 40.764, "eos": "LS220", "case": "3"},
      {"t": 0.1375, "L": 40.767, "eos": "LS220", "case": "3"},
      {"t": 0.1625, "L": 40.764, "eos": "LS220", "case": "3"},
      {"t": 0.1875, "L": 40.753, "eos": "LS220", "case": "3"},
      {"t": 0.2125, "L": 40.772, "eos": "LS220", "case": "3"},
      {"t": 0.2375, "L": 40.773, "eos": "LS220", "case": "3"},
      {"t": 0.2625, "L": 40.750, "eos": "LS220", "case": "3"},
      {"t": 0.2875, "L": 40.758, "eos": "LS220", "case": "3"},
      {"t": 0.3125, "L": 40.763, "eos": "LS220", "case": "3"},
      {"t": 0.3375, "L": 40.765, "eos": "LS220", "case": "3"},
      {"t": 0.3625, "L": 40.766, "eos": "LS220", "case": "3"},
      {"t": 0.3875, "L": 40.769, "eos": "LS220", "case": "3"},
      {"t": 0.4125, "L": 40.766, "eos": "LS220", "case": "3"},
      {"t": 0.4375, "L": 40.756, "eos": "LS220", "case": "3"},
      {"t": 0.4625, "L": 40.750, "eos": "LS220", "case": "3"},
      {"t": 0.4875, "L": 40.744, "eos": "LS220", "case": "3"},
      {"t": 0.5125, "L": 40.740, "eos": "LS220", "case": "3"},
      {"t": 0.5375, "L": 40.722, "eos": "LS220", "case": "3"},
      {"t": 0.5625, "L": 40.700, "eos": "LS220", "case": "3"},
      {"t": 0.5875, "L": 40.693, "eos": "LS220", "case": "3"},
      {"t": 0.6125, "L": 40.668, "eos": "LS220", "case": "3"},
      {"t": 0.6375, "L": 40.639, "eos": "LS220", "case": "3"},
      {"t": 0.6625, "L": 40.597, "eos": "LS220", "case": "3"},
      {"t": 0.6875, "L": 40.557, "eos": "LS220", "case": "3"},
      {"t": 0.7125, "L": 40.503, "eos": "LS220", "case": "3"},
      {"t": 0.7375, "L": 40.442, "eos": "LS220", "case": "3"},
      {"t": 0.7625, "L": 40.376, "eos": "LS220", "case": "3"},
      {"t": 0.7875, "L": 40.322, "eos": "LS220", "case": "3"},
      {"t": 0.8125, "L": 40.270, "eos": "LS220", "case": "3"},
      {"t": 0.8375, "L": 40.215, "eos": "LS220", "case": "3"},
      {"t": 0.8625, "L": 40.150, "eos": "LS220", "case": "3"},
      {"t": 0.8875, "L": 40.081, "eos": "LS220", "case": "3"},
      {"t": 0.9125, "L": 40.017, "eos": "LS220", "case": "3"},
      {"t": 0.9375, "L": 39.946, "eos": "LS220", "case": "3"},
      {"t": 0.9625, "L": 39.882, "eos": "LS220", "case": "3"},
      {"t": 0.9875, "L": 39.817, "eos": "LS220", "case": "3"},
      {"t": 1.0125, "L": 39.770, "eos": "LS220", "case": "3"},
      {"t": 1.0375, "L": 39.741, "eos": "LS220", "case": "3"},
      {"t": 1.0625, "L": 39.700, "eos": "LS220", "case": "3"},
      {"t": 1.0875, "L": 39.647, "eos": "LS220", "case": "3"},
      {"t": 1.1125, "L": 39.594, "eos": "LS220", "case": "3"},
      {"t": 1.1375, "L": 39.564, "eos": "LS220", "case": "3"},
      {"t": 1.1625, "L": 39.511, "eos": "LS220", "case": "3"},
      {"t": 1.1875, "L": 39.482, "eos": "LS220", "case": "3"},
      {"t": 1.2125, "L": 39.452, "eos": "LS220", "case": "3"},
      {"t": 1.2375, "L": 39.416, "eos": "LS220", "case": "3"},
      {"t": 1.2625, "L": 39.369, "eos": "LS220", "case": "3"},
      {"t": 1.2875, "L": 39.329, "eos": "LS220", "case": "3"},
      {"t": 1.3125, "L": 39.288, "eos": "LS220", "case": "3"},
      {"t": 1.3375, "L": 39.253, "eos": "LS220", "case": "3"},
      {"t": 1.3625, "L": 39.212, "eos": "LS220", "case": "3"},
      {"t": 1.3875, "L": 39.171, "eos": "LS220", "case": "3"},
      {"t": 1.4125, "L": 39.136, "eos": "LS220", "case": "3"},
      {"t": 1.4375, "L": 39.089, "eos": "LS220", "case": "3"},
      {"t": 1.4625, "L": 39.039, "eos": "LS220", "case": "3"}
    ]
  },
  "layer": [
    {
      "mark": {"type": "line", "strokeWidth": 4.2, "strokeCap": "butt"},
      "encoding": {
        "x": {
          "field": "t",
          "type": "quantitative",
          "scale": {"domain": [-0.3734, 1.5515], "nice": false, "zero": false},
          "axis": {
            "orient": "bottom",
            "values": [-0.25, 0, 0.25, 0.5, 0.75, 1, 1.25, 1.5],
            "format": ".2f",
            "labelPadding": 44,
            "title": "log(t[days])",
            "titlePadding": 15
          }
        },
        "y": {
          "field": "L",
          "type": "quantitative",
          "scale": {"domain": [38.884, 42.286], "nice": false, "zero": false},
          "axis": {
            "orient": "left",
            "values": [39, 39.5, 40, 40.5, 41, 41.5, 42],
            "format": ".1f",
            "labelPadding": 54,
            "title": "log(L_bol[erg/s])",
            "titlePadding": 24
          }
        },
        "color": {
          "field": "eos",
          "type": "nominal",
          "scale": {"domain": ["DD2", "LS220"], "range": ["#0000ff", "#ff0000"]},
          "legend": {"title": null, "orient": "top-right", "offset": 42}
        },
        "strokeDash": {
          "field": "case",
          "type": "nominal",
          "scale": {"domain": ["1", "2", "3"], "range": [[1, 0], [15.4, 6.7], [4.2, 6.9]]},
          "legend": null
        }
      }
    },
    {
      "mark": {"type": "point", "opacity": 0},
      "encoding": {
        "x": {
          "field": "t",
          "type": "quantitative",
          "axis": {
            "orient": "top",
            "values": [-0.25, 0, 0.25, 0.5, 0.75, 1, 1.25, 1.5],
            "labels": false,
            "title": null
          }
        },
        "y": {
          "field": "L",
          "type": "quantitative",
          "axis": {
            "orient": "right",
            "values": [39, 39.5, 40, 40.5, 41, 41.5, 42],
            "labels": false,
            "title": null
          }
        }
      }
    }
  ],
  "resolve": {"axis": {"x": "independent", "y": "independent"}}
}
